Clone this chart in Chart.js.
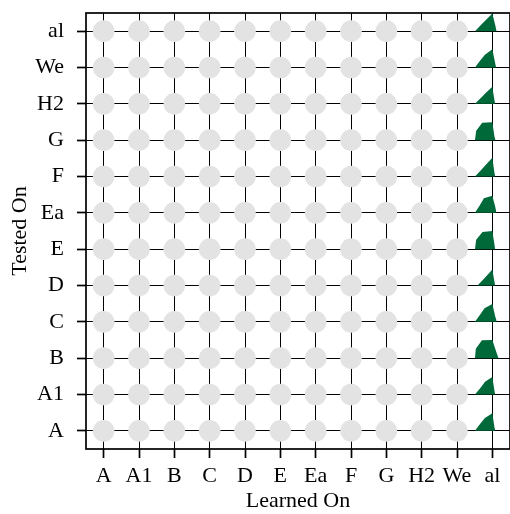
<!DOCTYPE html>
<html>
<head>
<meta charset="utf-8">
<script src="https://cdn.jsdelivr.net/npm/chart.js@4"></script>
<style>
  body { margin: 0; background: #fff; }
  #wrap { width: 510px; height: 514px; }
</style>
</head>
<body>
<div id="wrap"><canvas id="glyphChart"></canvas></div>
<script>
const learnedOn = ['A', 'A1', 'B', 'C', 'D', 'E', 'Ea', 'F', 'G', 'H2', 'We', 'al'];
const testedOn = ['A', 'A1', 'B', 'C', 'D', 'E', 'Ea', 'F', 'G', 'H2', 'We', 'al'];

// glyph spokes for the model learned on 'al', one value per tested-on row
// spoke1 points left, spoke7 points right
const spoke1 = [0.82, 0.82, 0.82, 0.82, 0.70, 0.82, 0.82, 0.82, 0.82, 0.82, 0.82, 0.82];
const spoke2 = [0.66, 0.64, 0.90, 0.67, 0.52, 0.88, 0.69, 0.61, 0.88, 0.60, 0.66, 0.61];
const spoke3 = [0.70, 0.69, 0.98, 0.74, 0.53, 0.93, 0.79, 0.63, 0.95, 0.60, 0.70, 0.61];
const spoke4 = [0.83, 0.82, 0.86, 0.84, 0.75, 0.86, 0.80, 0.88, 0.84, 0.81, 0.86, 0.83];
const spoke5 = [0.20, 0.20, 0.36, 0.28, 0.20, 0.21, 0.29, 0.20, 0.20, 0.20, 0.26, 0.29];
const spoke6 = [0.14, 0.14, 0.28, 0.21, 0.14, 0.14, 0.20, 0.14, 0.15, 0.14, 0.18, 0.20];
const spoke7 = [0.13, 0.13, 0.29, 0.20, 0.13, 0.13, 0.19, 0.13, 0.14, 0.13, 0.18, 0.20];

const yLabels = [...testedOn].reverse();

// empty cells: every pair except the 'al' column
const emptyCells = [];
learnedOn.filter(l => l !== 'al').forEach(l => {
  testedOn.forEach(t => emptyCells.push({ x: l, y: t }));
});

Chart.defaults.font.family = "'Liberation Serif', serif";
Chart.defaults.color = '#000';

const framePlugin = {
  id: 'frame',
  afterDraw(chart) {
    const { ctx, chartArea: a } = chart;
    ctx.save();
    ctx.strokeStyle = '#000';
    ctx.lineWidth = 1.7;
    ctx.strokeRect(a.left, a.top, a.right - a.left, a.bottom - a.top);
    ctx.restore();
  }
};

const glyphPlugin = {
  id: 'glyphs',
  afterDraw(chart) {
    const { ctx, scales: { x, y } } = chart;
    const cell = Math.abs(x.getPixelForValue(1) - x.getPixelForValue(0));
    const R = cell * 0.6;
    const cx = x.getPixelForValue(learnedOn.indexOf('al'));
    const spokes = [spoke1, spoke2, spoke3, spoke4, spoke5, spoke6, spoke7];
    ctx.save();
    ctx.fillStyle = '#00693a';
    testedOn.forEach((t, i) => {
      const cy = y.getPixelForValue(yLabels.indexOf(t));
      ctx.beginPath();
      spokes.forEach((s, k) => {
        const ang = Math.PI - k * Math.PI / (spokes.length - 1);
        const px = cx + Math.cos(ang) * s[i] * R;
        const py = cy - Math.sin(ang) * s[i] * R;
        if (k === 0) ctx.moveTo(px, py); else ctx.lineTo(px, py);
      });
      ctx.closePath();
      ctx.fill();
    });
    ctx.restore();
  }
};

const ctx = document.getElementById('glyphChart').getContext('2d');
new Chart(ctx, {
  type: 'scatter',
  data: {
    datasets: [{
      data: emptyCells,
      pointRadius: 10.8,
      pointHoverRadius: 10.8,
      pointBackgroundColor: '#e3e3e3',
      pointBorderWidth: 0
    }]
  },
  options: {
    responsive: true,
    maintainAspectRatio: false,
    animation: false,
    events: [],
    layout: { autoPadding: false, padding: { top: 13, right: 0, left: 0, bottom: 0 } },
    plugins: {
      legend: { display: false },
      tooltip: { enabled: false }
    },
    scales: {
      x: {
        type: 'category',
        labels: learnedOn,
        offset: true,
        z: 1,
        border: { display: false },
        grid: {
          offset: false,
          color: '#000',
          lineWidth: 1,
          tickColor: '#000',
          tickWidth: 1.7,
          tickLength: 9
        },
        ticks: { font: { size: 22 }, padding: 5, maxRotation: 0, autoSkip: false },
        title: { display: true, text: 'Learned On', font: { size: 22 }, padding: { top: 0, bottom: 0 } },
        afterFit(s) {
          s.height = 65;
          s.paddingLeft = 0;
          s.paddingRight = 0;
        }
      },
      y: {
        type: 'category',
        labels: yLabels,
        offset: true,
        z: 1,
        border: { display: false },
        grid: {
          offset: false,
          color: '#000',
          lineWidth: 1,
          tickColor: '#000',
          tickWidth: 1.7,
          tickLength: 9
        },
        ticks: { font: { size: 22 }, padding: 13, autoSkip: false },
        title: { display: true, text: 'Tested On', font: { size: 22 }, padding: { top: 7, bottom: 0 } },
        afterFit(s) {
          s.width = 86;
          s.paddingTop = 0;
          s.paddingBottom = 0;
        }
      }
    }
  },
  plugins: [framePlugin, glyphPlugin]
});
</script>
</body>
</html>
